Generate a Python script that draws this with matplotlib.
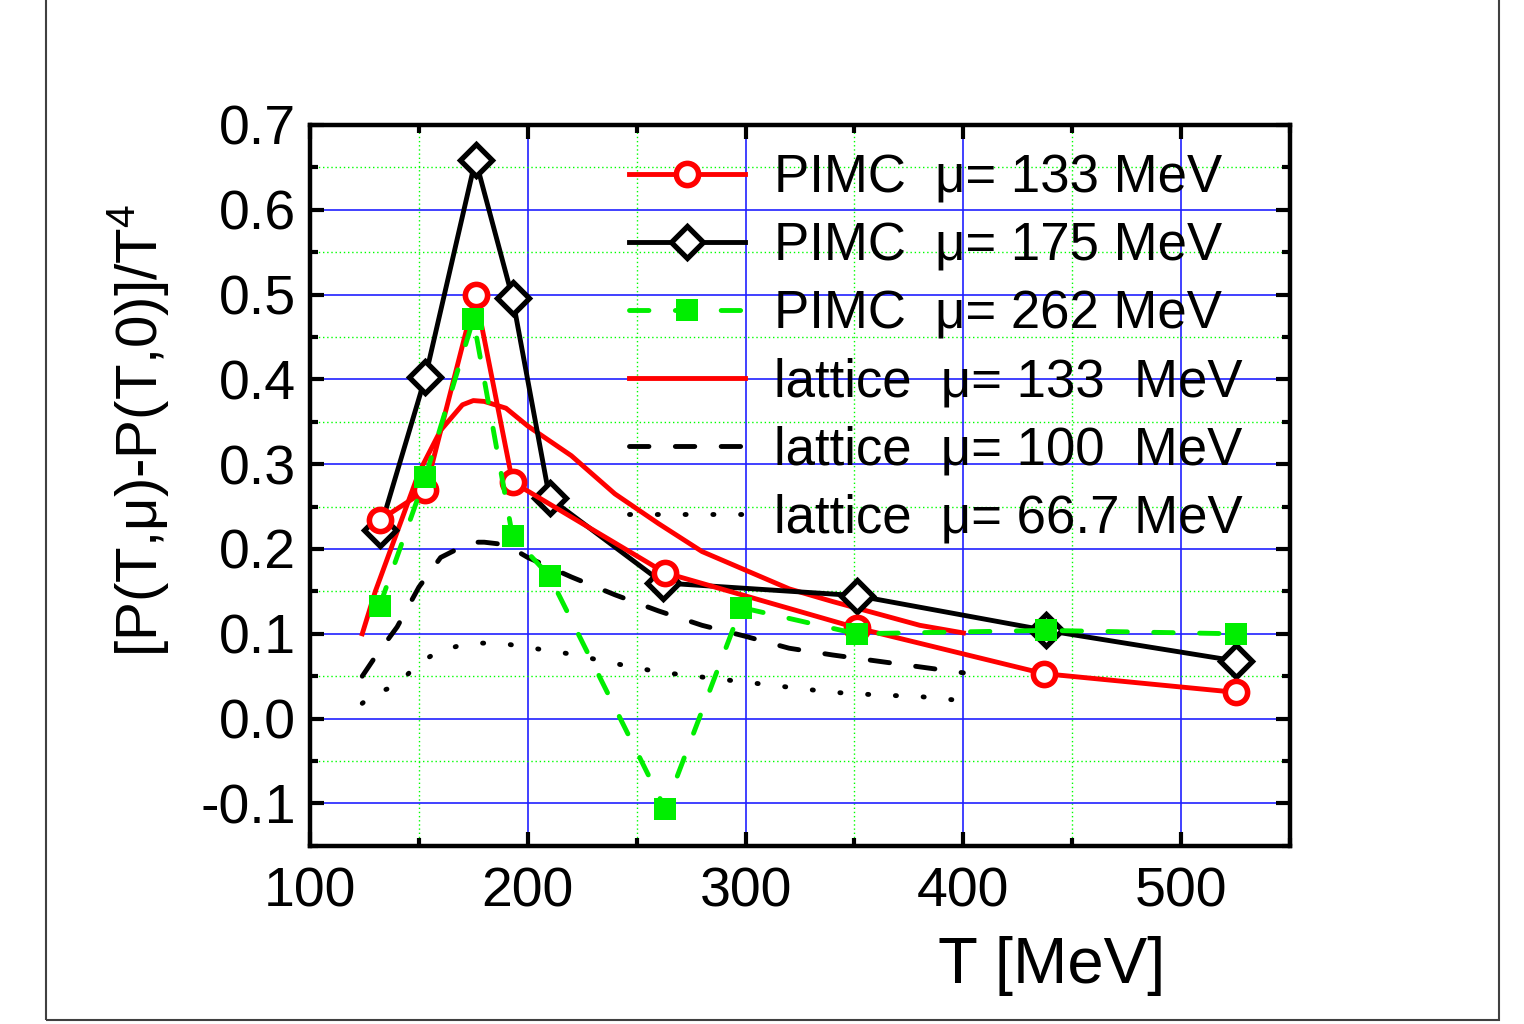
import matplotlib
matplotlib.use('Agg')
import matplotlib.pyplot as plt
from matplotlib.patches import Rectangle
from matplotlib.ticker import MultipleLocator

# PIMC results
T_pimc_133 = [132, 153, 176, 193, 263, 351, 437, 525]
p_pimc_133 = [0.234, 0.269, 0.500, 0.279, 0.172, 0.107, 0.053, 0.031]

T_pimc_175 = [132, 153, 176, 193, 210, 262, 351, 438, 525]
p_pimc_175 = [0.222, 0.403, 0.659, 0.496, 0.260, 0.160, 0.145, 0.104, 0.068]

T_pimc_262 = [132, 153, 175, 193, 210, 263, 298, 351, 438, 525]
p_pimc_262 = [0.133, 0.285, 0.471, 0.215, 0.168, -0.106, 0.131, 0.100, 0.104, 0.100]

# lattice curves
T_lat = [124, 130, 140, 150, 160, 170, 175, 180, 190, 200, 220, 240, 260, 280,
         300, 320, 340, 360, 380, 400]
p_lat_133 = [0.100, 0.150, 0.220, 0.290, 0.340, 0.370, 0.375, 0.374, 0.366, 0.345,
             0.310, 0.265, 0.230, 0.197, 0.175, 0.153, 0.138, 0.124, 0.110, 0.101]
p_lat_100 = [0.050, 0.073, 0.108, 0.155, 0.190, 0.203, 0.208, 0.208, 0.205, 0.190,
             0.167, 0.146, 0.127, 0.110, 0.097, 0.083, 0.075, 0.068, 0.061, 0.054]
p_lat_67 = [0.018, 0.030, 0.039, 0.066, 0.080, 0.087, 0.089, 0.089, 0.088, 0.084,
            0.076, 0.065, 0.055, 0.049, 0.043, 0.037, 0.031, 0.028, 0.026, 0.021]

plt.rcParams['font.family'] = ['Liberation Sans', 'DejaVu Sans']
plt.rcParams['mathtext.fontset'] = 'custom'
plt.rcParams['mathtext.rm'] = 'Liberation Sans'
plt.rcParams['lines.scale_dashes'] = False

fig = plt.figure(figsize=(15.24, 10.24), dpi=100)
ax = fig.add_axes([0.2034, 0.174, 0.6431, 0.704])

lw = 3.5
dash = (0, (14, 19))
dot = (0, (0.8, 19.2))

ax.plot(T_lat, p_lat_133, color='red', lw=lw, label='lattice  μ= 133  MeV', zorder=3)
ax.plot(T_lat, p_lat_100, color='black', lw=lw, ls=dash, dash_capstyle='round',
        label='lattice  μ= 100  MeV', zorder=3)
ax.plot(T_lat, p_lat_67, color='black', lw=lw, ls=dot, dash_capstyle='round',
        label='lattice  μ= 66.7 MeV', zorder=3)

ax.plot(T_pimc_175, p_pimc_175, color='black', lw=lw, marker='D', ms=16,
        mfc='white', mec='black', mew=3.8, label='PIMC  μ= 175 MeV', zorder=4)
ax.plot(T_pimc_133, p_pimc_133, color='red', lw=lw, marker='o', ms=16,
        mfc='white', mec='red', mew=4.0, label='PIMC  μ= 133 MeV', zorder=5)
ax.plot(T_pimc_262, p_pimc_262, color='#00ee00', lw=lw, ls=dash, dash_capstyle='round',
        marker='s', ms=15.5, mfc='#00ee00', mec='#00ee00', mew=0,
        label='PIMC  μ= 262 MeV', zorder=6)

ax.set_xlim(100, 550)
ax.set_ylim(-0.15, 0.7)
ax.xaxis.set_major_locator(MultipleLocator(100))
ax.xaxis.set_minor_locator(MultipleLocator(50))
ax.yaxis.set_major_locator(MultipleLocator(0.1))
ax.yaxis.set_minor_locator(MultipleLocator(0.05))
ax.yaxis.set_major_formatter(matplotlib.ticker.FormatStrFormatter('%.1f'))

ax.grid(which='major', color='#2020ff', lw=1.2, ls='-', zorder=0)
ax.grid(which='minor', color='#00ff00', lw=1.0, ls=(0, (1, 2)), zorder=0)
ax.set_axisbelow(True)

ax.tick_params(which='both', direction='in', top=True, right=True, width=3,
               labelsize=40)
ax.tick_params(axis='y', pad=10)
ax.tick_params(axis='x', pad=15)
ax.tick_params(which='major', length=10)
ax.tick_params(which='minor', length=6)
for s in ax.spines.values():
    s.set_linewidth(3.2)

ax.set_xlabel('T [MeV]', fontsize=47)
ax.xaxis.set_label_coords(0.757, -0.125)
ax.set_ylabel('[P(T,μ)-P(T,0)]/T$^{4}$', fontsize=42)
ax.yaxis.set_label_coords(-0.141, 0.577)

handles, labels = ax.get_legend_handles_labels()
order = [4, 3, 5, 0, 1, 2]
ax.legend([handles[i] for i in order], [labels[i] for i in order],
          loc='upper left', bbox_to_anchor=(0.325, 0.96), frameon=False,
          fontsize=38, numpoints=1, handlelength=2.2, handletextpad=0.55,
          labelspacing=0.34, borderpad=0, borderaxespad=0)

fig.add_artist(Rectangle((0.0302, 0.0039), 0.9534, 1.0, transform=fig.transFigure,
                         fill=False, edgecolor='#404040', lw=1.5))

fig.savefig('out.png', dpi=100)
